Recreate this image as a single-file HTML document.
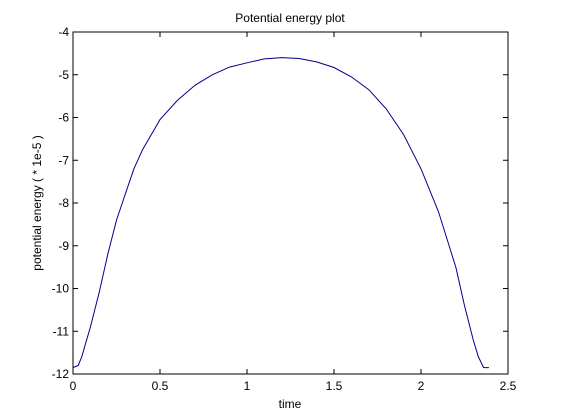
<!DOCTYPE html>
<html><head><meta charset="utf-8">
<style>
body{margin:0;background:#fff;}
svg{display:block;font-family:"Liberation Sans",sans-serif;}
</style></head>
<body>
<svg id="chart" width="561" height="420">
<rect x="0" y="0" width="561" height="420" fill="#fff"/>
<text x="290" y="22" font-size="12" text-anchor="middle">Potential energy plot</text>
<text x="290" y="408" font-size="12" text-anchor="middle">time</text>
<text transform="translate(41,203) rotate(-90)" font-size="12" text-anchor="middle">potential energy ( * 1e-5 )</text>
<rect x="73" y="32" width="435" height="342" fill="none" stroke="#000" stroke-width="1"/>
<g id="ticks"></g>
<path id="line" fill="none" stroke="#00008b" stroke-width="1"/>
</svg>
<script>
const xTicks=[0,0.5,1,1.5,2,2.5];
const xTickLabels=["0","0.5","1","1.5","2","2.5"];
const yTicks=[-4,-5,-6,-7,-8,-9,-10,-11,-12];
const yTickLabels=["-4","-5","-6","-7","-8","-9","-10","-11","-12"];
const times=[0,0.03,0.05,0.1,0.15,0.2,0.25,0.3,0.35,0.4,0.45,0.5,0.6,0.7,0.8,0.9,1.0,1.1,1.2,1.3,1.4,1.5,1.6,1.7,1.8,1.9,2.0,2.1,2.2,2.25,2.3,2.33,2.36,2.39];
const energy=[-11.85,-11.8,-11.6,-10.9,-10.1,-9.2,-8.4,-7.8,-7.2,-6.75,-6.4,-6.05,-5.6,-5.25,-5.0,-4.82,-4.72,-4.63,-4.6,-4.62,-4.7,-4.83,-5.05,-5.35,-5.8,-6.4,-7.2,-8.2,-9.5,-10.4,-11.2,-11.6,-11.85,-11.85];
const L=73,R=508,T=32,B=374;
const xs=v=>L+(v-0)/(2.5-0)*(R-L);
const ys=v=>T+(-4-v)/(8)*(B-T);
const NS="http://www.w3.org/2000/svg";
const g=document.getElementById('ticks');
function mk(tag,attrs){const e=document.createElementNS(NS,tag);for(const k in attrs)e.setAttribute(k,attrs[k]);return e;}
xTicks.forEach((v,i)=>{
 const x=xs(v);
 const t1=mk('line',{x1:x,x2:x,y1:B,y2:B-5,stroke:'#000'});
 
 
 g.appendChild(t1);
 const t2=mk('line',{x1:x,x2:x,y1:T,y2:T+5,stroke:'#000'});
 
 
 g.appendChild(t2);
 const tx=mk('text',{x:x,y:B+16,'font-size':12,'text-anchor':'middle'});
 tx.textContent=xTickLabels[i];
 
 
 g.appendChild(tx);
});
yTicks.forEach((v,i)=>{
 const y=ys(v);
 const t1=mk('line',{x1:L,x2:L+5,y1:y,y2:y,stroke:'#000'});
 
 
 g.appendChild(t1);
 const t2=mk('line',{x1:R,x2:R-5,y1:y,y2:y,stroke:'#000'});
 
 
 g.appendChild(t2);
 const tx=mk('text',{x:L-4,y:y+4,'font-size':12,'text-anchor':'end'});
 tx.textContent=yTickLabels[i];
 
 
 g.appendChild(tx);
});
document.getElementById('line').setAttribute('d',times.map((t,i)=>(i?'L':'M')+xs(t).toFixed(1)+','+ys(energy[i]).toFixed(1)).join(''));
</script>
</body></html>
